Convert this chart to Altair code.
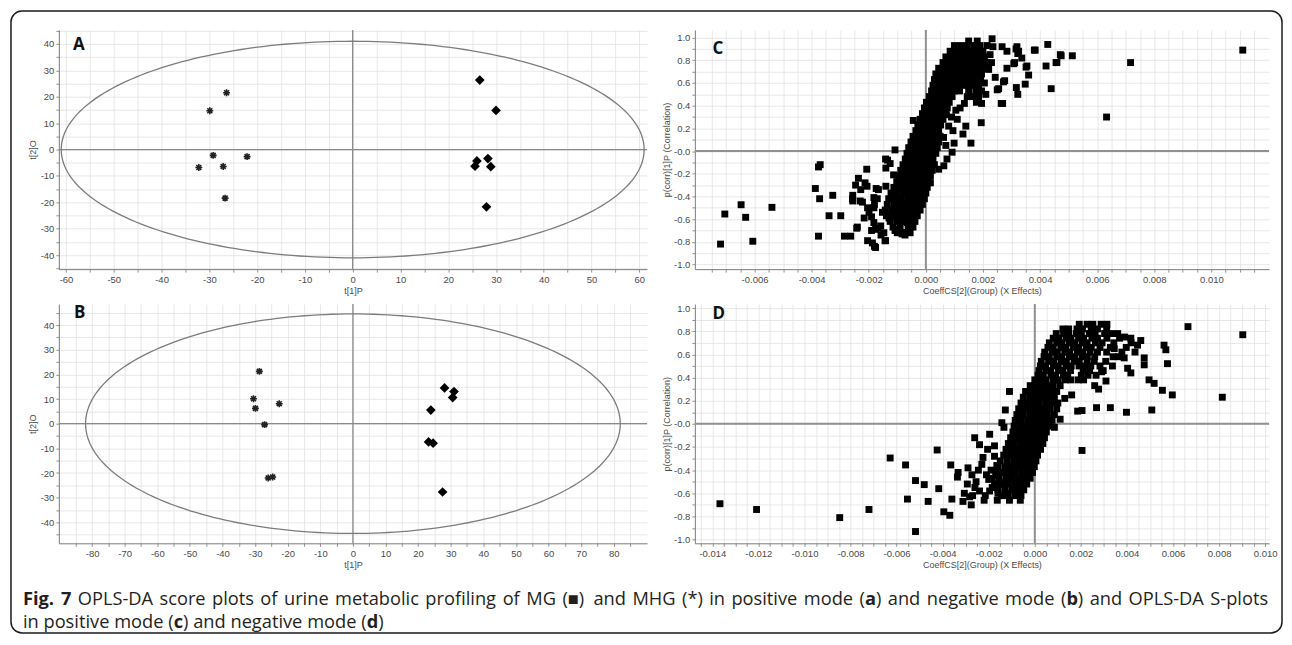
import numpy as np
import pandas as pd
import altair as alt

# ---------------- values ----------------
# Panel A: OPLS-DA score plot, positive mode (t[1]P vs t[2]O)
a_mhg_t1 = [-26.4, -29.9, -29.2, -32.2, -27.1, -22.1, -26.7]
a_mhg_t2 = [21.5, 14.7, -2.2, -6.8, -6.4, -2.7, -18.4]
a_mg_t1 = [26.6, 30.0, 26.0, 25.6, 28.3, 28.9, 28.0]
a_mg_t2 = [26.3, 14.8, -4.3, -6.3, -3.4, -6.5, -21.7]
a_ellipse_axes = [61.0, 41.0]

# Panel B: OPLS-DA score plot, negative mode
b_mhg_t1 = [-28.7, -30.5, -29.9, -22.6, -27.1, -26.0, -24.6]
b_mhg_t2 = [21.2, 10.1, 6.2, 8.1, -0.4, -22.0, -21.6]
b_mg_t1 = [28.1, 31.0, 30.6, 23.9, 23.2, 24.6, 27.5]
b_mg_t2 = [14.5, 13.0, 10.6, 5.5, -7.4, -7.9, -27.7]
b_ellipse_axes = [82.0, 44.5]

# Panel C: S-plot, positive mode. x = CoeffCS in units of 1e-3, y = p(corr)
c_stem_rows = [
    (-0.72, [-1.00, -0.78, -0.55]),
    (-0.67, [-1.15, -0.90, -0.62, -0.45]),
    (-0.62, [-1.25, -1.02, -0.80, -0.58, -0.38]),
    (-0.57, [-1.38, -1.15, -0.93, -0.70, -0.48, -0.30]),
    (-0.52, [-1.42, -1.20, -0.98, -0.76, -0.55, -0.33, -0.20]),
    (-0.47, [-1.35, -1.12, -0.90, -0.68, -0.47, -0.27, -0.12]),
    (-0.42, [-1.30, -1.08, -0.86, -0.64, -0.43, -0.22, -0.05]),
    (-0.37, [-1.22, -1.00, -0.78, -0.57, -0.36, -0.16, 0.00]),
    (-0.32, [-1.12, -0.92, -0.70, -0.50, -0.30, -0.10, 0.05]),
    (-0.27, [-1.02, -0.82, -0.62, -0.42, -0.22, -0.03, 0.10]),
    (-0.22, [-0.95, -0.75, -0.55, -0.35, -0.15, 0.05, 0.16]),
    (-0.17, [-0.88, -0.68, -0.48, -0.28, -0.08, 0.10, 0.22]),
    (-0.12, [-0.80, -0.60, -0.40, -0.20, 0.00, 0.18, 0.30]),
    (-0.07, [-0.72, -0.52, -0.32, -0.12, 0.08, 0.25]),
    (-0.02, [-0.66, -0.45, -0.25, -0.05, 0.15, 0.35]),
    (0.03, [-0.60, -0.40, -0.20, 0.00, 0.20, 0.40]),
    (0.08, [-0.52, -0.32, -0.12, 0.08, 0.28, 0.45]),
    (0.13, [-0.45, -0.25, -0.05, 0.15, 0.35, 0.50]),
    (0.18, [-0.35, -0.15, 0.05, 0.25, 0.45]),
    (0.23, [-0.28, -0.08, 0.12, 0.32, 0.52]),
    (0.28, [-0.20, 0.00, 0.20, 0.40, 0.60]),
    (0.33, [-0.12, 0.08, 0.28, 0.48, 0.68]),
    (0.38, [-0.05, 0.15, 0.35, 0.55, 0.75]),
    (0.43, [0.02, 0.22, 0.42, 0.62, 0.82]),
]
c_blob_rows = [
    (0.48, [0.12, 0.32, 0.52, 0.72, 0.92, 1.45, 1.65, 1.85]),
    (0.53, [0.20, 0.40, 0.60, 0.80, 1.00, 1.18, 1.50, 1.75, 1.95]),
    (0.58, [0.25, 0.45, 0.65, 0.85, 1.05, 1.25, 1.45, 1.65, 1.85]),
    (0.63, [0.30, 0.50, 0.70, 0.90, 1.10, 1.30, 1.50, 1.70, 1.92]),
    (0.68, [0.35, 0.55, 0.75, 0.95, 1.15, 1.35, 1.55, 1.75, 1.95]),
    (0.73, [0.45, 0.65, 0.85, 1.05, 1.25, 1.45, 1.65, 1.85, 2.02]),
    (0.78, [0.60, 0.80, 1.00, 1.20, 1.40, 1.60, 1.80, 2.00, 2.12]),
    (0.83, [0.70, 0.90, 1.10, 1.30, 1.50, 1.70, 1.90, 2.05]),
    (0.88, [0.85, 1.05, 1.25, 1.45, 1.65, 1.85, 2.00]),
    (0.93, [1.00, 1.22, 1.45, 1.68, 1.90]),
    (0.97, [1.50, 1.80]),
]
c_branch = [
    (0.72, 0.32), (0.90, 0.30), (1.05, 0.36), (1.20, 0.38), (1.35, 0.42), (0.80, 0.22),
    (0.95, 0.18), (0.62, 0.12), (0.70, 0.05), (1.10, 0.28), (0.74, -0.07), (0.63, -0.13),
    (0.45, -0.16), (0.16, -0.28), (1.40, 0.22), (1.30, 0.15), (-0.44, 0.27),
]
c_lower = [
    (-7.19, -0.82), (-7.04, -0.555), (-6.47, -0.473), (-6.31, -0.584), (-6.06, -0.795),
    (-5.39, -0.496), (-3.87, -0.33), (-3.76, -0.14), (-3.70, -0.12), (-3.72, -0.42),
    (-3.76, -0.75), (-3.39, -0.57), (-3.26, -0.39), (-2.98, -0.57), (-2.85, -0.75),
    (-2.63, -0.75), (-2.42, -0.68), (-2.56, -0.39), (-2.56, -0.44), (-2.36, -0.24),
    (-2.46, -0.30), (-2.07, -0.16), (-2.13, -0.28), (-2.30, -0.44), (-2.06, -0.31),
    (-2.04, -0.50), (-2.04, -0.79), (-1.80, -0.84), (-1.90, -0.58), (-1.90, -0.70),
    (-1.67, -0.68), (-1.80, -0.47), (-1.74, -0.33), (-1.70, -0.42), (-1.43, -0.79),
    (-1.57, -0.74), (-1.34, -0.08), (-1.40, -0.15), (-1.40, -0.31), (-1.25, -0.11),
    (-1.13, -0.21), (-1.08, 0.01), (-1.08, -0.70), (-0.98, -0.56), (-0.84, -0.72),
    (-0.73, -0.74), (-0.44, -0.57), (-2.28, -0.34), (-2.57, -0.42), (-2.22, -0.45),
    (-1.82, -0.41), (-1.66, -0.34), (-1.41, -0.07), (-1.99, -0.54), (-2.16, -0.59),
    (-1.82, -0.50), (-1.52, -0.54), (-1.29, -0.59), (-1.18, -0.42), (-1.82, -0.63),
    (-1.58, -0.66), (-1.76, -0.69), (-1.47, -0.72), (-1.87, -0.81), (-1.76, -0.85),
    (-1.41, -0.79), (-1.00, -0.69), (-0.83, -0.73), (-0.65, -0.63), (-0.83, -0.57),
    (-1.06, -0.50), (-2.40, -0.67),
]
c_upper_right = [
    (2.32, 0.99), (2.67, 0.92), (2.84, 0.88), (3.19, 0.92), (3.25, 0.88), (3.36, 0.82),
    (3.83, 0.89), (4.27, 0.94), (4.74, 0.84), (5.13, 0.84), (4.59, 0.78), (4.21, 0.75),
    (3.54, 0.75), (3.60, 0.67), (2.84, 0.73), (3.11, 0.78), (2.43, 0.65), (2.76, 0.62),
    (2.55, 0.55), (3.48, 0.59), (3.17, 0.56), (3.22, 0.50), (4.39, 0.55), (2.69, 0.42),
    (1.94, 0.25), (1.58, 0.07), (0.99, 0.07), (0.92, -0.01), (7.17, 0.78), (6.33, 0.30),
    (11.10, 0.89), (3.80, 0.89), (3.51, 0.74), (2.50, 0.54), (2.72, 0.61), (3.08, 0.77),
    (3.22, 0.86), (3.16, 0.90), (1.77, 0.43), (4.71, 0.85), (4.56, 0.78), (2.15, 0.93),
    (2.25, 0.85), (2.20, 0.72), (2.30, 0.78), (2.05, 0.60), (2.10, 0.50), (1.95, 0.42),
    (2.35, 0.92), (2.64, 0.42),
]

# Panel D: S-plot, negative mode. x in units of 1e-3
d_stem_rows = [
    (-0.62, [-1.45, -1.15, -0.85, -0.60]),
    (-0.57, [-1.60, -1.30, -1.00, -0.72, -0.48]),
    (-0.52, [-1.75, -1.45, -1.15, -0.88, -0.60, -0.35]),
    (-0.47, [-1.85, -1.55, -1.25, -0.97, -0.70, -0.42, -0.20]),
    (-0.42, [-1.70, -1.40, -1.12, -0.84, -0.56, -0.30, -0.10]),
    (-0.37, [-1.60, -1.30, -1.02, -0.75, -0.48, -0.22, -0.02]),
    (-0.32, [-1.50, -1.20, -0.92, -0.65, -0.40, -0.15, 0.05]),
    (-0.27, [-1.35, -1.08, -0.80, -0.55, -0.30, -0.05, 0.12]),
    (-0.22, [-1.25, -0.98, -0.72, -0.46, -0.20, 0.05, 0.25]),
    (-0.17, [-1.15, -0.90, -0.62, -0.36, -0.10, 0.15, 0.35]),
    (-0.12, [-1.05, -0.80, -0.55, -0.28, -0.02, 0.22, 0.42]),
    (-0.07, [-0.95, -0.70, -0.45, -0.20, 0.05, 0.30, 0.50]),
    (-0.02, [-0.90, -0.62, -0.36, -0.10, 0.15, 0.40, 0.62]),
    (0.03, [-0.85, -0.58, -0.30, -0.05, 0.22, 0.48, 0.75]),
    (0.08, [-0.78, -0.50, -0.22, 0.05, 0.30, 0.55, 0.85]),
    (0.13, [-0.70, -0.42, -0.15, 0.12, 0.38, 0.65, 0.95]),
    (0.18, [-0.60, -0.32, -0.05, 0.20, 0.48, 0.75, 1.00]),
    (0.23, [-0.50, -0.22, 0.05, 0.30, 0.58, 0.85]),
    (0.28, [-0.40, -0.12, 0.15, 0.40, 0.68, 0.95]),
    (0.33, [-0.20, 0.05, 0.30, 0.55, 0.80, 1.10]),
]
d_blob_rows = [
    (0.38, [0.00, 0.27, 0.49, 0.80, 1.02, 1.33, 1.56, 1.88, 2.12]),
    (0.42, [0.14, 0.37, 0.70, 0.90, 1.24, 1.43, 2.02, 2.31, 2.66]),
    (0.46, [0.18, 0.48, 0.69, 1.03, 1.22, 1.55, 2.10, 2.38, 2.97]),
    (0.50, [0.24, 0.47, 0.81, 1.02, 1.35, 1.58, 1.92, 2.18, 2.43, 2.83, 3.37]),
    (0.54, [0.28, 0.60, 0.83, 1.15, 1.37, 1.71, 1.93, 2.27, 2.58, 3.08]),
    (0.58, [0.40, 0.63, 0.95, 1.17, 1.50, 1.73, 2.05, 2.28, 2.60, 3.40, 3.62]),
    (0.62, [0.43, 0.75, 0.98, 1.30, 1.52, 1.85, 2.08, 2.40, 2.72, 3.12, 3.78]),
    (0.66, [0.57, 0.80, 1.13, 1.35, 1.68, 1.90, 2.23, 2.45, 2.83, 3.28, 3.97]),
    (0.70, [0.63, 0.95, 1.18, 1.50, 1.73, 2.05, 2.27, 2.63, 2.92, 3.43, 4.18]),
    (0.74, [0.80, 1.03, 1.35, 1.57, 1.90, 2.12, 2.48, 2.72, 3.13, 3.68]),
    (0.78, [0.93, 1.25, 1.47, 1.80, 2.02, 2.37, 2.62, 3.03, 3.33]),
    (0.82, [1.22, 1.47, 1.83, 2.07, 2.45, 2.72, 3.12]),
    (0.86, [1.93, 2.27, 2.52, 2.88, 3.13]),
]
d_lower = [
    (-13.67, -0.69), (-12.08, -0.74), (-8.47, -0.81), (-7.20, -0.74), (-6.28, -0.295),
    (-5.61, -0.355), (-5.53, -0.65), (-5.18, -0.49), (-5.18, -0.93), (-4.80, -0.525),
    (-4.63, -0.67), (-4.24, -0.226), (-4.17, -0.56), (-3.95, -0.76), (-3.69, -0.79),
    (-3.65, -0.355), (-3.60, -0.65), (-3.33, -0.42), (-3.36, -0.46), (-3.12, -0.67),
    (-2.90, -0.38), (-3.06, -0.60), (-2.93, -0.52), (-2.83, -0.63), (-2.76, -0.70),
    (-2.61, -0.12), (-2.73, -0.44), (-2.40, -0.18), (-2.25, -0.29), (-1.96, -0.09),
    (-2.40, -0.58), (-2.15, -0.62), (-1.96, -0.58), (-1.63, -0.66), (-1.60, -0.60),
    (-2.10, -0.44), (-1.75, -0.19), (-1.75, -0.28), (-1.65, -0.36), (-1.10, -0.66),
    (-0.63, -0.66), (-0.74, -0.55), (-1.34, -0.52), (-1.10, 0.28), (-1.28, 0.12),
    (-1.43, 0.01), (-1.34, -0.03), (-2.55, -0.50), (-2.30, -0.35), (-2.00, -0.48),
    (-1.85, -0.55), (-2.20, -0.66), (-1.90, -0.40), (-2.60, -0.55), (-2.05, -0.22),
    (-1.55, -0.50), (-1.45, -0.62), (-1.20, -0.60), (-2.70, -0.62), (-2.45, -0.40),
    (-1.60, -0.44),
]
d_upper_right = [
    (6.65, 0.84), (8.14, 0.23), (9.03, 0.77), (5.61, 0.68), (5.69, 0.64), (5.76, 0.52),
    (4.75, 0.57), (4.75, 0.51), (4.60, 0.72), (4.96, 0.38), (5.18, 0.35), (5.54, 0.29),
    (5.97, 0.25), (5.08, 0.12), (3.98, 0.10), (3.28, 0.14), (2.68, 0.14), (2.05, 0.115),
    (1.86, 0.11), (2.05, -0.23), (4.03, 0.48), (4.17, 0.44), (3.88, 0.57), (3.45, 0.65),
    (4.17, 0.74), (4.46, 0.68), (2.77, 0.30), (3.09, 0.37), (2.60, 0.33), (2.90, 0.45),
    (3.60, 0.78), (3.90, 0.75), (4.35, 0.62), (1.10, 0.04), (0.85, -0.03), (1.30, 0.22),
    (1.60, 0.25),
]

# axis tick positions
score_a_xticks = list(range(-60, 61, 5))
score_a_yticks = list(range(-45, 46, 5))
score_b_xticks = list(range(-85, 86, 5))
score_b_yticks = list(range(-45, 46, 5))
splot_c_xticks = [round(-0.0075 + 0.0005 * i, 4) for i in range(39)]
splot_d_xticks = [round(-0.0145 + 0.0005 * i, 4) for i in range(50)]
splot_yticks = [round(-1.0 + 0.1 * i, 1) for i in range(21)]

# caption text, as words made of (text, bold) runs
caption_line1 = [
    [("Fig.", True)], [("7", True)], [("OPLS-DA", False)], [("score", False)], [("plots", False)],
    [("of", False)], [("urine", False)], [("metabolic", False)], [("profiling", False)], [("of", False)],
    [("MG", False)], [("(\u25a0)", False)], [("and", False)], [("MHG", False)], [("(*)", False)],
    [("in", False)], [("positive", False)], [("mode", False)], [("(", False), ("a", True), (")", False)],
    [("and", False)], [("negative", False)], [("mode", False)], [("(", False), ("b", True), (")", False)],
    [("and", False)], [("OPLS-DA", False)], [("S-plots", False)],
]
caption_line2 = [
    [("in", False)], [("positive", False)], [("mode", False)], [("(", False), ("c", True), (")", False)],
    [("and", False)], [("negative", False)], [("mode", False)], [("(", False), ("d", True), (")", False)],
]

# ---------------- styling ----------------
FONT = "Liberation Sans"
ZERO = "#8a8a8a"
AX = dict(grid=True, gridColor="#e2e2e2", gridWidth=0.8, domainColor="#7a7a7a", domainWidth=1,
          tickColor="#7a7a7a", tickSize=3, tickWidth=0.8, labelFont=FONT, labelFontSize=9.5,
          labelColor="#4a4a4a", labelPadding=2, labelOverlap=False, labelFlush=False,
          titleFont=FONT, titleFontSize=9, titleFontWeight="normal", titleColor="#4a4a4a")
INT_LABEL = "datum.value % 10 === 0 ? toString(datum.value) : ''"
SX_LABEL = ("abs(round(datum.value*2000)) % 4 === 0 ? "
            "(datum.value < -1e-9 ? '-' : '') + format(abs(datum.value), '.3f') : ''")
SY_LABEL = ("abs(round(datum.value*10)) % 2 === 0 ? "
            "(datum.value < 1e-9 ? '-' : '') + format(abs(datum.value), '.1f') : ''")
ASTERISK = "M-1,0L1,0M0,-1L0,1M-0.72,-0.72L0.72,0.72M-0.72,0.72L0.72,-0.72"


def letter_layer(letter, px, py):
    return alt.Chart(pd.DataFrame({"s": [letter]})).mark_text(
        font="Open Sans", fontWeight="bold", fontSize=17, color="#111", align="center",
        baseline="middle").encode(text="s:N", x=alt.value(px), y=alt.value(py))


def score_panel(mhg_x, mhg_y, mg_x, mg_y, semi, xdom, ydom, xt, yt, letter, lpos, extra=()):
    xs = alt.Scale(domain=xdom, nice=False, zero=False)
    ys = alt.Scale(domain=ydom, nice=False, zero=False)
    X = alt.X("t1:Q", scale=xs, axis=alt.Axis(values=xt, labelExpr=INT_LABEL, title="t[1]P",
                                              titlePadding=3, **AX))
    Y = alt.Y("t2:Q", scale=ys, axis=alt.Axis(values=yt, labelExpr=INT_LABEL, title="t[2]O",
                                              titlePadding=3, **AX))
    ang = np.linspace(0, 2 * np.pi, 241)
    ell = pd.DataFrame({"t1": semi[0] * np.cos(ang), "t2": semi[1] * np.sin(ang),
                        "k": np.arange(len(ang))})
    zv = alt.Chart(pd.DataFrame({"t1": [0.0]})).mark_rule(color=ZERO, strokeWidth=1.3).encode(x=X)
    zh = alt.Chart(pd.DataFrame({"t2": [0.0]})).mark_rule(color=ZERO, strokeWidth=1.3).encode(y=Y)
    el = alt.Chart(ell).mark_line(color="#7c7c7c", strokeWidth=1.3).encode(x=X, y=Y, order="k:Q")
    p1 = alt.Chart(pd.DataFrame({"t1": mhg_x, "t2": mhg_y})).mark_point(
        shape=ASTERISK, filled=False, color="#222", strokeWidth=1.6, size=48, opacity=1).encode(x=X, y=Y)
    p2 = alt.Chart(pd.DataFrame({"t1": mg_x, "t2": mg_y})).mark_point(
        shape="diamond", filled=True, color="black", size=95, opacity=1).encode(x=X, y=Y)
    return alt.layer(zv, zh, el, p1, p2, letter_layer(letter, *lpos), *extra).properties(
        width=590, height=240)


def s_panel(pairs, xdom, ydom, xt, letter, lpos):
    df = pd.DataFrame(pairs, columns=["cx", "pc"])
    df["cx"] = df["cx"] / 1000.0
    xs = alt.Scale(domain=xdom, nice=False, zero=False)
    ys = alt.Scale(domain=ydom, nice=False, zero=False)
    X = alt.X("cx:Q", scale=xs, axis=alt.Axis(values=xt, labelExpr=SX_LABEL,
                                              title="CoeffCS[2](Group) (X Effects)", titlePadding=3, **AX))
    Y = alt.Y("pc:Q", scale=ys, axis=alt.Axis(values=splot_yticks, labelExpr=SY_LABEL,
                                              title="p(corr)[1]P (Correlation)", titlePadding=2, **AX))
    zv = alt.Chart(pd.DataFrame({"cx": [0.0]})).mark_rule(color="#909090", strokeWidth=2).encode(x=X)
    zh = alt.Chart(pd.DataFrame({"pc": [0.0]})).mark_rule(color="#909090", strokeWidth=2).encode(y=Y)
    pts = alt.Chart(df).mark_square(size=48, color="black", opacity=1).encode(x=X, y=Y)
    return alt.layer(zv, zh, pts, letter_layer(letter, *lpos)).properties(width=576, height=240)


def flatten(rows):
    return [(x, y) for y, xs in rows for x in xs]


# ---------------- caption + frame (drawn inside panel B's coordinate space) ----------------
# approximate Open Sans advance widths (units per em = 2048) used to lay out the caption words
REG_W = {'a': 1139, 'b': 1255, 'c': 975, 'd': 1255, 'e': 1149, 'f': 694, 'g': 1122, 'h': 1257,
         'i': 518, 'l': 518, 'm': 1905, 'n': 1257, 'o': 1237, 'p': 1255, 'r': 836, 's': 977,
         't': 723, 'u': 1257, 'v': 1026, 'A': 1296, 'D': 1493, 'G': 1491, 'H': 1511, 'L': 1061,
         'M': 1849, 'O': 1599, 'P': 1233, 'S': 1114, '-': 659, '(': 614, ')': 614, '*': 1104,
         '\u25a0': 1540}
BOLD_W = {'F': 1167, 'i': 612, 'g': 1165, '.': 600, '7': 1171, 'a': 1217, 'b': 1276, 'c': 1030,
          'd': 1276}
SPACE_W = 532
CAP_SIZE = 18.3
CAP_FONT = "Open Sans"


def run_width(text, bold):
    table = BOLD_W if bold else REG_W
    return sum(table.get(ch, 1150) for ch in text) * CAP_SIZE / 2048.0


def layout_line(words, x0, y, target=None):
    widths = [sum(run_width(t, b) for t, b in w) for w in words]
    space = SPACE_W * CAP_SIZE / 2048.0
    if target is not None:
        space = (target - sum(widths)) / (len(words) - 1)
    marks = []
    x = x0
    for w, wd in zip(words, widths):
        rx = x
        for t, b in w:
            marks.append(alt.Chart(pd.DataFrame({"s": [t]})).mark_text(
                font=CAP_FONT, fontSize=CAP_SIZE, fontWeight="bold" if b else "normal",
                color="#231f20", align="left", baseline="middle").encode(
                text="s:N", x=alt.value(round(rx, 2)), y=alt.value(y)))
            rx += run_width(t, b)
        x += wd + space
    return marks


one = pd.DataFrame({"k": [0]})
frame = alt.Chart(one).mark_rect(fill="transparent", stroke="#1a1a1a", strokeWidth=1.5,
                                 cornerRadius=11).encode(
    x=alt.value(-48), x2=alt.value(1227), y=alt.value(-294), y2=alt.value(330))
caption_marks = [frame] + layout_line(caption_line1, -36, 297, target=1249) + \
    layout_line(caption_line2, -36, 320)

A = score_panel(a_mhg_t1, a_mhg_t2, a_mg_t1, a_mg_t2, a_ellipse_axes, [-61.5, 61.6], [-45.3, 45.3],
                score_a_xticks, score_a_yticks, "A", (20, 15))
B = score_panel(b_mhg_t1, b_mhg_t2, b_mg_t1, b_mg_t2, b_ellipse_axes, [-90.2, 90.2], [-48.5, 48.5],
                score_b_xticks, score_b_yticks, "B", (21, 9), extra=caption_marks)
C = s_panel(flatten(c_stem_rows) + flatten(c_blob_rows) + c_branch + c_lower + c_upper_right,
            [-0.00809, 0.01202], [-1.041, 1.068], splot_c_xticks, "C", (23, 19))
D = s_panel(flatten(d_stem_rows) + flatten(d_blob_rows) + d_lower + d_upper_right,
            [-0.01476, 0.01017], [-1.032, 1.035], splot_d_xticks, "D", (24, 10))

chart = alt.concat(A, C, B, D, columns=2, spacing={"row": 35, "column": 48}, bounds="flush",
                   padding={"left": 1, "top": 0, "right": 0, "bottom": 0})
chart = chart.configure_view(stroke="transparent")

chart.save("out.html", embed_options={"renderer": "svg", "actions": False})
